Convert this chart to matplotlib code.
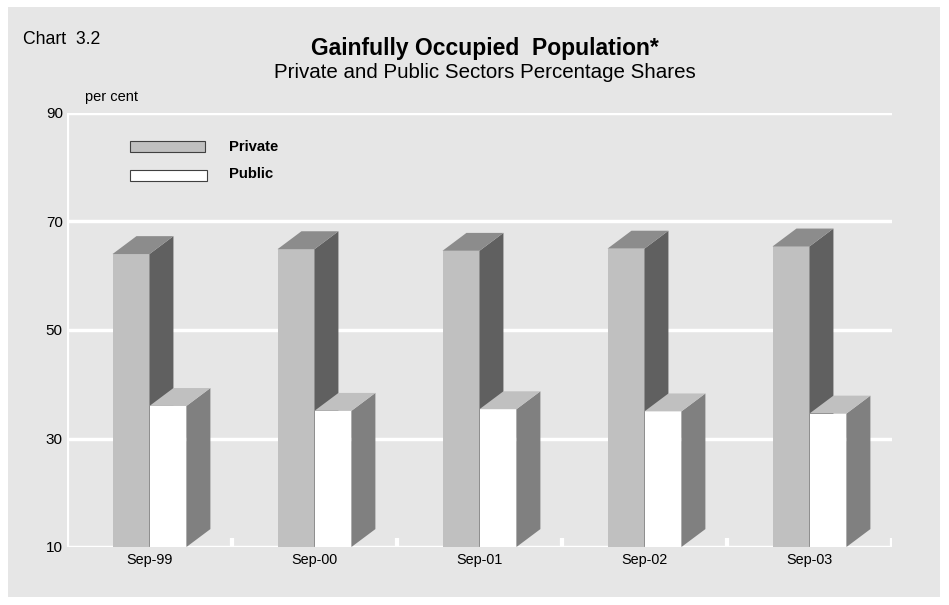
import matplotlib
matplotlib.use('Agg')
import matplotlib.pyplot as plt
from matplotlib.patches import Polygon, Rectangle

plt.rcParams['font.family'] = ['Liberation Sans', 'DejaVu Sans']

periods = ['Sep-99', 'Sep-00', 'Sep-01', 'Sep-02', 'Sep-03']
privateShare = [64.0, 64.9, 64.6, 65.0, 65.4]
publicShare = [36.0, 35.1, 35.4, 35.0, 34.6]
yTicks = [10, 30, 50, 70, 90]

BG = '#e6e6e6'
barWidth = 0.224
depthX = 0.145
depthY = 3.3


def box3d(ax, x0, top, faceColor, sideColor, topColor, base=10):
    x1 = x0 + barWidth
    ax.add_patch(Rectangle((x0, base), barWidth, top - base, facecolor=faceColor,
                           edgecolor='none', zorder=3))
    side = [(x1, base), (x1 + depthX, base + depthY), (x1 + depthX, top + depthY), (x1, top)]
    ax.add_patch(Polygon(side, closed=True, facecolor=sideColor, edgecolor='none', zorder=3))
    lid = [(x0, top), (x0 + depthX, top + depthY), (x1 + depthX, top + depthY), (x1, top)]
    ax.add_patch(Polygon(lid, closed=True, facecolor=topColor, edgecolor='none', zorder=3))


fig = plt.figure(figsize=(9.49, 6.05), dpi=100)
fig.patch.set_facecolor('white')
fig.patches.append(Rectangle((8 / 949, 8 / 605), 932 / 949, 590 / 605, transform=fig.transFigure,
                             facecolor=BG, edgecolor='none', zorder=-1))

ax = fig.add_axes([67 / 949, 58 / 605, 825 / 949, 434 / 605])
ax.set_facecolor(BG)
ax.set_xlim(0, 5)
ax.set_ylim(10, 90)

for y in yTicks:
    ax.axhline(y, color='white', lw=2.5, zorder=1)
ax.axvline(0, color='white', lw=3, zorder=1)
for i in range(1, 6):
    ax.plot([i, i], [10, 11.6], color='white', lw=3, zorder=1, solid_capstyle='butt')

for i, (pv, pb) in enumerate(zip(privateShare, publicShare)):
    centre = i + 0.5
    box3d(ax, centre - barWidth, pv, '#c0c0c0', '#606060', '#8c8c8c')
    box3d(ax, centre, pb, 'white', '#808080', '#c0c0c0')

for s in ax.spines.values():
    s.set_visible(False)
ax.set_xticks([i + 0.5 for i in range(5)])
ax.set_xticklabels(periods, fontsize=10.4)
ax.set_yticks(yTicks)
ax.set_yticklabels([str(v) for v in yTicks], fontsize=11)
ax.tick_params(length=0, pad=4)
ax.tick_params(axis='y', pad=3)

# legend drawn by hand
fig.patches.append(Rectangle((130 / 949, 1 - 152 / 605), 75 / 949, 11 / 605, transform=fig.transFigure,
                             facecolor='#c0c0c0', edgecolor='#404040', lw=0.8, zorder=5))
fig.patches.append(Rectangle((130 / 949, 1 - 181 / 605), 77 / 949, 11 / 605, transform=fig.transFigure,
                             facecolor='white', edgecolor='#404040', lw=0.8, zorder=5))
fig.text(229 / 949, 1 - 147 / 605, 'Private', fontsize=10.7, fontweight='bold', va='center')
fig.text(229 / 949, 1 - 174 / 605, 'Public', fontsize=10.7, fontweight='bold', va='center')

fig.text(23 / 949, 1 - 40 / 605, 'Chart  3.2', fontsize=12.7, va='center')
fig.text(485 / 949, 1 - 48 / 605, 'Gainfully Occupied  Population*', fontsize=16.5,
         fontweight='bold', ha='center', va='center')
fig.text(485 / 949, 1 - 73 / 605, 'Private and Public Sectors Percentage Shares', fontsize=14.8,
         ha='center', va='center')
fig.text(85 / 949, 1 - 97 / 605, 'per cent', fontsize=10.5, va='center')

fig.savefig('out.png', dpi=100, facecolor=fig.get_facecolor())
